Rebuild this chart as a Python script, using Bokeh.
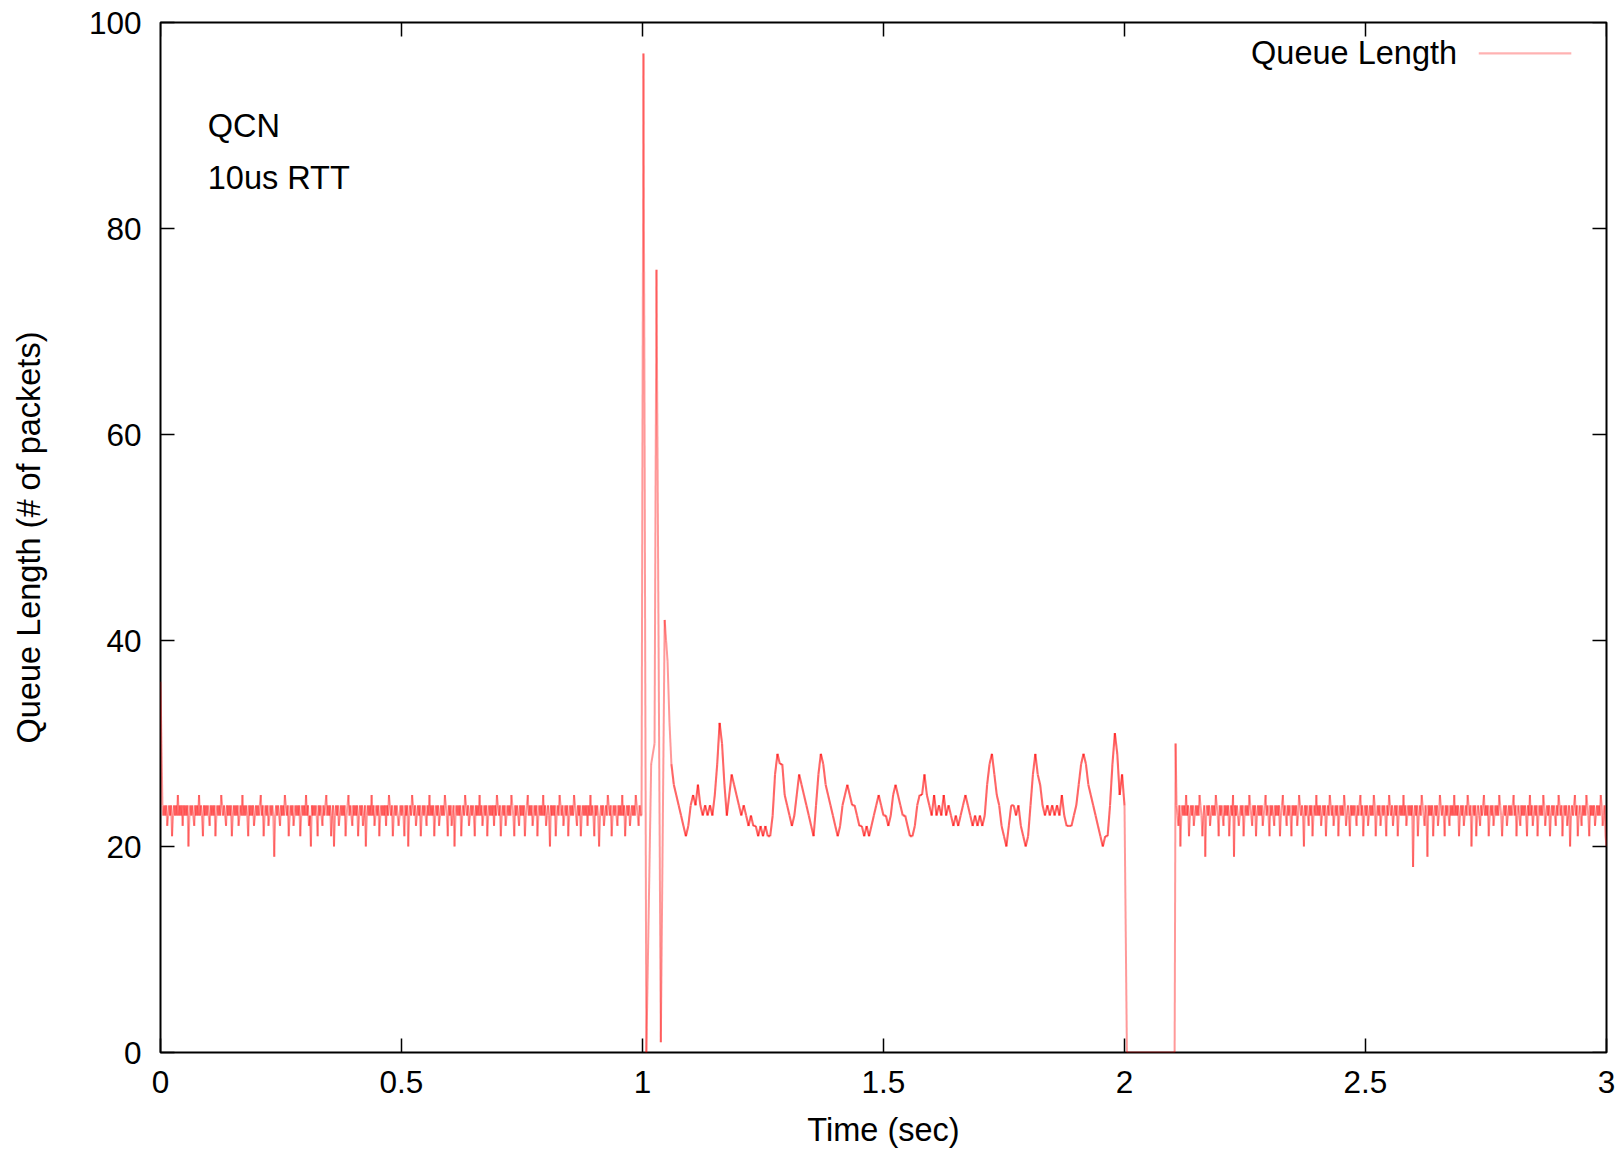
import numpy as np
from bokeh.plotting import figure
from bokeh.models import Range1d, FixedTicker, Label
from bokeh.embed import file_html
from bokeh.resources import INLINE

# ---------------- data ----------------
# steady-state noise 0 .. 0.998 s (about one sample every 2 ms)
noise1_span = (0.0, 0.998)
noise1 = [
    36,30,24,23,24,23,24,22,23,24, 23,24,21,23,24,23,24,23,25,23,
    24,23,24,22,24,23,24,23,24,20, 23,24,23,24,23,22,24,23,24,23,
    25,23,24,23,21,24,23,24,23,24,
    23,22,24,23,24,23,24,21,23,24, 23,24,23,25,24,23,24,23,22,24,
    23,24,23,24,21,23,24,23,24,23, 24,22,23,24,23,25,23,24,23,24,
    23,21,24,23,24,23,24,22,23,24,
    23,24,23,24,25,23,24,21,23,24, 23,24,22,23,24,23,24,23,19,23,
    24,23,24,23,22,24,23,24,23,25, 24,23,24,21,23,24,23,24,22,23,
    24,23,24,23,24,21,23,24,23,24,
    23,25,23,24,22,23,20,24,23,24, 23,24,23,21,24,23,24,23,22,24,
    23,24,25,23,24,23,24,21,23,24, 20,23,24,23,24,22,23,24,23,24,
    23,24,21,23,24,25,23,24,23,22,
    24,23,24,23,24,21,23,24,23,24, 22,23,24,20,23,24,23,24,23,25,
    23,24,22,23,24,23,24,21,23,24, 23,24,23,24,22,24,23,25,24,23,
    24,21,23,24,23,24,23,22,23,24,
    23,24,23,21,24,23,24,20,23,24, 23,25,24,23,24,22,23,24,23,24,
    21,23,24,23,24,23,22,24,23,25, 23,24,23,24,21,23,24,23,24,22,
    23,24,23,24,23,25,24,23,21,24,
    23,24,22,23,24,20,23,24,23,24, 23,24,21,23,24,23,25,24,23,24,
    22,23,24,23,24,23,21,24,23,24, 23,25,23,24,22,23,24,23,24,21,
    23,24,23,24,23,24,22,24,23,25,
    24,23,24,21,23,24,23,24,22,23, 24,23,24,23,25,24,23,21,24,23,
    24,23,22,24,23,24,23,24,21,23, 24,25,23,24,23,24,22,23,24,23,
    24,21,23,24,23,24,23,25,23,24,
    22,23,24,23,20,24,23,24,23,24, 21,23,24,23,25,24,23,24,22,23,
    24,23,24,21,23,24,23,24,23,25, 24,23,22,24,23,24,21,23,24,23,
    24,23,24,22,24,23,25,23,24,23,
    21,24,23,24,23,20,23,24,23,24, 22,23,24,23,25,24,23,24,21,23,
    24,23,24,23,22,24,23,24,23,25, 23,24,21,23,24,23,24,22,23,24,
    23,24,23,25,24,23,22,24,23,23,
]

# transient right after the 1 s event (irregular sample times)
burst_t = [1.002, 1.008, 1.018, 1.025, 1.029, 1.038, 1.046, 1.049, 1.052, 1.056]
burst_v = [97, 0, 28, 30, 76, 1, 42, 40, 38, 32]

# oscillation 1.060 .. 2.005 s, one sample every 5 ms
osc_span = (1.060, 2.005)
osc = [
    28,26,25,24,23,22,21,22,24,25,
    24,26,24,23,24,23,24,23,25,28,
    32,30,26,23,25,27,26,25,24,23,
    24,23,22,23,22,22,21,22,21,22,
    21,21,23,27,29,28,28,25,24,23,
    22,23,25,27,26,25,24,23,22,21,
    24,27,29,28,26,25,24,23,22,21,
    22,24,25,26,25,24,24,23,22,22,
    21,22,21,22,23,24,25,24,23,23,
    22,23,25,26,25,24,23,23,22,21,
    21,22,24,25,25,27,25,24,23,25,
    23,24,23,25,23,24,23,22,23,22,
    23,24,25,24,23,22,23,22,23,22,
    23,26,28,29,27,25,24,22,21,20,
    22,24,24,23,24,22,21,20,21,24,
    27,29,27,26,24,23,24,23,24,23,
    24,23,25,23,22,22,22,23,24,26,
    28,29,28,26,25,24,23,22,21,20,
    21,21,24,28,31,29,25,27,24,0,
]

# empty queue, then restart spike
gap_t = [2.104, 2.106]
gap_v = [0, 30]

# steady-state noise 2.108 .. 3.0 s (about one sample every 2 ms)
noise2_span = (2.108, 3.0)
noise2 = [
    24,23,22,24,20,23,24,23,24,23, 25,23,24,21,23,24,23,24,22,23,
    24,23,24,23,25,24,23,21,23,24, 19,23,24,23,24,22,23,24,23,24,
    23,25,24,23,21,24,23,24,23,22, 24,23,24,23,24,21,23,24,23,25,
    19,24,23,24,23,22,23,24,23,24, 21,23,24,23,24,23,25,24,23,22,
    24,23,24,21,23,24,23,24,23,24, 22,23,24,25,23,24,23,21,24,23,
    24,23,22,24,23,24,23,24,21,23, 24,25,23,24,23,22,24,23,24,23,
    21,24,23,24,23,24,22,23,25,24, 23,24,23,20,24,23,24,23,22,24,
    23,24,21,23,24,23,25,23,24,23, 24,22,23,24,23,24,21,23,24,23,
    25,24,23,24,22,23,24,23,24,21, 23,24,23,24,23,25,24,22,23,24,
    23,21,24,23,24,23,24,23,22,24, 23,24,25,23,24,21,23,24,23,24,
    22,23,24,23,24,23,25,24,21,23, 24,23,24,22,23,24,23,24,23,21,
    24,23,25,24,23,24,22,23,24,23, 24,21,23,24,23,24,23,25,23,24,
    22,23,24,23,24,23,24,18,23,24, 23,24,21,23,24,23,25,24,23,22,
    24,23,19,24,23,24,23,24,21,23, 24,23,24,22,23,25,24,23,24,23,
    21,24,23,24,23,22,24,23,24,23, 25,23,24,23,24,21,23,24,23,24,
    22,23,24,23,25,24,23,24,20,23, 24,23,24,21,23,24,23,22,24,23,
    24,25,23,24,23,24,21,23,24,23, 24,22,23,24,23,24,23,25,24,23,
    21,23,24,23,24,22,23,24,23,24, 23,24,25,23,24,21,23,24,23,22,
    24,23,24,23,24,23,21,24,23,25, 23,24,22,23,24,23,24,21,23,24,
    23,24,23,25,24,22,23,24,23,24, 21,23,24,23,24,23,22,24,23,25,
    24,23,24,21,23,24,23,24,22,23, 24,20,23,24,23,24,25,23,24,21,
    23,24,23,22,24,23,24,23,25,24, 23,21,24,23,24,23,24,22,23,24,
    23,24,23,25,24,22,23,24,21,20,
]

x_ticks = [0, 0.5, 1, 1.5, 2, 2.5, 3]
x_tick_labels = ["0", "0.5", "1", "1.5", "2", "2.5", "3"]
y_ticks = [0, 20, 40, 60, 80, 100]
y_tick_labels = ["0", "20", "40", "60", "80", "100"]

series_name = "Queue Length"
notes = ["QCN", "10us RTT"]

X_MIN, X_MAX = 0, 3
Y_MIN, Y_MAX = 0, 100

# ---------------- assemble ----------------
t_all = np.concatenate([
    np.linspace(noise1_span[0], noise1_span[1], len(noise1)),
    np.array(burst_t),
    np.linspace(osc_span[0], osc_span[1], len(osc)),
    np.array(gap_t),
    np.linspace(noise2_span[0], noise2_span[1], len(noise2)),
])
v_all = np.concatenate([noise1, burst_v, osc, gap_v, noise2]).astype(float)

x0, y0, x1, y1 = t_all[:-1], v_all[:-1], t_all[1:], v_all[1:]
in_osc = (x0 >= osc_span[0]) & (x1 <= osc_span[1] - 0.004)

FONT = "Liberation Sans"
FS_TICK = "31.5px"
FS = "32.5px"
RED = "#ff0000"

W, H = 1615, 1152
BL, BR, BT, BB = 160, 9, 22, 100
p = figure(width=W, height=H,
           x_range=Range1d(X_MIN, X_MAX), y_range=Range1d(Y_MIN, Y_MAX),
           output_backend="svg", toolbar_location=None,
           min_border_left=BL, min_border_right=BR,
           min_border_top=BT, min_border_bottom=BB)

p.background_fill_color = "white"
p.border_fill_color = "white"
p.outline_line_color = "black"
p.outline_line_width = 2
p.grid.visible = False

# the trace: individual segments so that overlaps darken like the original
p.segment(x0=x0[~in_osc], y0=y0[~in_osc], x1=x1[~in_osc], y1=y1[~in_osc],
          line_color=RED, line_alpha=0.4, line_width=2.0)
p.segment(x0=x0[in_osc], y0=y0[in_osc], x1=x1[in_osc], y1=y1[in_osc],
          line_color=RED, line_alpha=0.6, line_width=2.1)

TICK_PX = 14

def style_axis(ax, ticks, labels):
    ax.ticker = FixedTicker(ticks=ticks)
    ax.major_label_overrides = {t: l for t, l in zip(ticks, labels)}
    ax.major_tick_in = TICK_PX
    ax.major_tick_out = 0
    ax.minor_tick_in = 0
    ax.minor_tick_out = 0
    ax.major_tick_line_color = "black"
    ax.major_tick_line_width = 1.5
    ax.axis_line_color = None
    ax.major_label_text_font = FONT
    ax.major_label_text_color = "black"
    ax.major_label_text_font_size = FS_TICK

xa = p.xaxis[0]
style_axis(xa, x_ticks, x_tick_labels)
xa.major_label_standoff = 18
xa.axis_label = "Time (sec)"
xa.axis_label_text_font = FONT
xa.axis_label_text_font_size = FS
xa.axis_label_text_font_style = "normal"
xa.axis_label_text_color = "black"
xa.axis_label_standoff = 16

ya = p.yaxis[0]
style_axis(ya, y_ticks, y_tick_labels)
ya.major_label_standoff = 19
ya.axis_label = "Queue Length (# of packets)"
ya.axis_label_text_font = FONT
ya.axis_label_text_font_size = FS
ya.axis_label_text_font_style = "normal"
ya.axis_label_text_color = "black"
ya.axis_label_standoff = 39

# mirrored inward ticks on the top and right edges (gnuplot style border)
frame_w = W - BL - BR
frame_h = H - BT - BB
dx_tick = TICK_PX * (X_MAX - X_MIN) / frame_w
dy_tick = TICK_PX * (Y_MAX - Y_MIN) / frame_h
p.segment(x0=x_ticks, y0=[Y_MAX] * len(x_ticks),
          x1=x_ticks, y1=[Y_MAX - dy_tick] * len(x_ticks),
          line_color="black", line_width=1.5)
p.segment(x0=[X_MAX] * len(y_ticks), y0=y_ticks,
          x1=[X_MAX - dx_tick] * len(y_ticks), y1=y_ticks,
          line_color="black", line_width=1.5)

# annotations
p.add_layout(Label(x=0.098, y=90.0, text=notes[0], text_font=FONT,
                   text_font_size=FS, text_color="black",
                   text_baseline="middle", text_align="left"))
p.add_layout(Label(x=0.098, y=84.9, text=notes[1], text_font=FONT,
                   text_font_size=FS, text_color="black",
                   text_baseline="middle", text_align="left"))

# legend (label left of the sample line, as in the original)
leg_y = 97.0
p.add_layout(Label(x=2.690, y=leg_y, text=series_name, text_font=FONT,
                   text_font_size=FS, text_color="black",
                   text_baseline="middle", text_align="right"))
p.segment(x0=[2.735], y0=[leg_y], x1=[2.927], y1=[leg_y],
          line_color=RED, line_alpha=0.3, line_width=2.2)

open("out.html", "w").write(file_html(p, INLINE))
